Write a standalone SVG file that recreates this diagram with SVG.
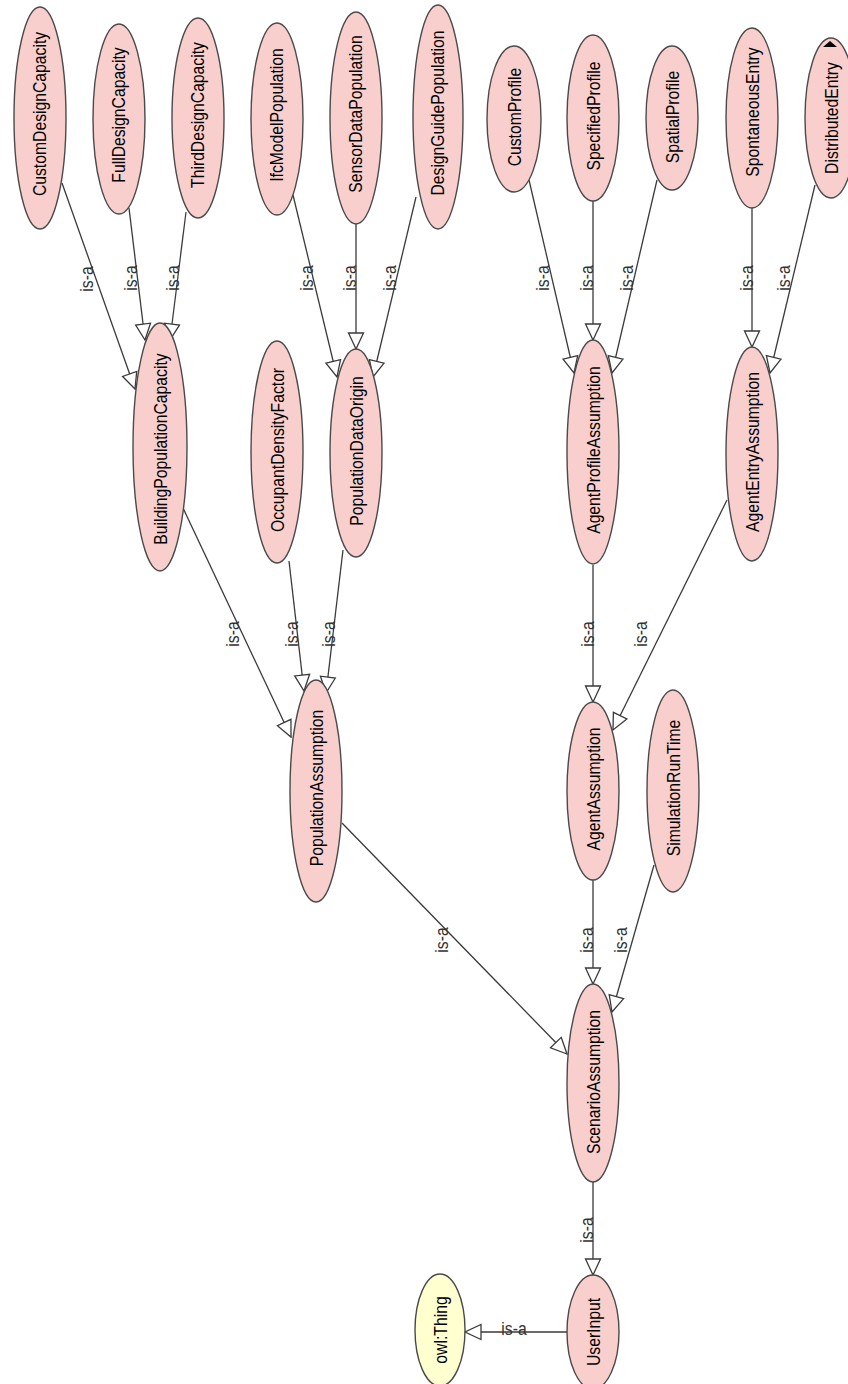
<svg xmlns="http://www.w3.org/2000/svg" width="848" height="1384" viewBox="0 0 848 1384">
<style>
.n ellipse{fill:#f8cfcd;stroke:#4a4a4a;stroke-width:1.4}
.t ellipse{fill:#ffffd0;stroke:#4a4a4a;stroke-width:1.4}
.n text,.t text{font-family:"Liberation Sans",Arial,sans-serif;font-size:18.5px;fill:#000;text-anchor:middle;dominant-baseline:central}
.e line{stroke:#3a3a3a;stroke-width:1.3;marker-end:url(#tri)}
.e text{font-family:"Liberation Sans",Arial,sans-serif;font-size:18.5px;fill:#333;text-anchor:middle;dominant-baseline:central}
</style>
<defs>
<marker id="tri" markerUnits="userSpaceOnUse" markerWidth="18" markerHeight="18" viewBox="0 0 18 18" refX="17" refY="9" orient="auto">
<path d="M1,1.5 L17,9 L1,16.5 Z" fill="#fff" stroke="#3a3a3a" stroke-width="1.3"/>
</marker>
</defs>
<rect width="848" height="1384" fill="#fff"/>
<g id="edges" class="e">
<line x1="62" y1="183" x2="135" y2="389"/>
<line x1="129" y1="208" x2="145" y2="340"/>
<line x1="186" y1="212" x2="170" y2="340"/>
<line x1="293" y1="195" x2="337" y2="377"/>
<line x1="356" y1="224" x2="356" y2="349"/>
<line x1="416" y1="197" x2="373" y2="377"/>
<line x1="529" y1="180" x2="574" y2="373"/>
<line x1="593" y1="201" x2="593" y2="340"/>
<line x1="657" y1="180" x2="612" y2="373"/>
<line x1="752" y1="208" x2="752" y2="347"/>
<line x1="815" y1="185" x2="770" y2="373"/>
<line x1="183" y1="508" x2="291" y2="737"/>
<line x1="289" y1="561" x2="304" y2="691"/>
<line x1="343" y1="550" x2="326" y2="693"/>
<line x1="593" y1="565" x2="593" y2="702"/>
<line x1="727" y1="500" x2="613" y2="730"/>
<line x1="342" y1="823" x2="567" y2="1054"/>
<line x1="593" y1="880" x2="593" y2="984"/>
<line x1="654" y1="865" x2="612" y2="1012"/>
<line x1="593" y1="1182" x2="593" y2="1275"/>
<line x1="567" y1="1332" x2="465" y2="1332"/>
<text transform="translate(87,279) rotate(-90) scale(0.85,1)">is-a</text>
<text transform="translate(131,278) rotate(-90) scale(0.85,1)">is-a</text>
<text transform="translate(173,278) rotate(-90) scale(0.85,1)">is-a</text>
<text transform="translate(307,278) rotate(-90) scale(0.85,1)">is-a</text>
<text transform="translate(350,278) rotate(-90) scale(0.85,1)">is-a</text>
<text transform="translate(390,278) rotate(-90) scale(0.85,1)">is-a</text>
<text transform="translate(543,278) rotate(-90) scale(0.85,1)">is-a</text>
<text transform="translate(587,278) rotate(-90) scale(0.85,1)">is-a</text>
<text transform="translate(627,278) rotate(-90) scale(0.85,1)">is-a</text>
<text transform="translate(747,278) rotate(-90) scale(0.85,1)">is-a</text>
<text transform="translate(784,278) rotate(-90) scale(0.85,1)">is-a</text>
<text transform="translate(233,634) rotate(-90) scale(0.85,1)">is-a</text>
<text transform="translate(292,634) rotate(-90) scale(0.85,1)">is-a</text>
<text transform="translate(329,634) rotate(-90) scale(0.85,1)">is-a</text>
<text transform="translate(588,634) rotate(-90) scale(0.85,1)">is-a</text>
<text transform="translate(641,634) rotate(-90) scale(0.85,1)">is-a</text>
<text transform="translate(442,940) rotate(-90) scale(0.85,1)">is-a</text>
<text transform="translate(587,940) rotate(-90) scale(0.85,1)">is-a</text>
<text transform="translate(621,940) rotate(-90) scale(0.85,1)">is-a</text>
<text transform="translate(587,1230) rotate(-90) scale(0.85,1)">is-a</text>
<text transform="translate(514,1329) scale(0.85,1)">is-a</text>
</g>
<g id="CustomDesignCapacity" class="n"><ellipse cx="40" cy="118" rx="26" ry="111"/><text transform="translate(40,114) rotate(-90) scale(0.85,1)">CustomDesignCapacity</text></g>
<g id="FullDesignCapacity" class="n"><ellipse cx="119" cy="119" rx="26" ry="95"/><text transform="translate(119,115) rotate(-90) scale(0.85,1)">FullDesignCapacity</text></g>
<g id="ThirdDesignCapacity" class="n"><ellipse cx="198" cy="118" rx="26" ry="100"/><text transform="translate(198,115) rotate(-90) scale(0.85,1)">ThirdDesignCapacity</text></g>
<g id="IfcModelPopulation" class="n"><ellipse cx="277" cy="119" rx="26" ry="96"/><text transform="translate(277,115) rotate(-90) scale(0.85,1)">IfcModelPopulation</text></g>
<g id="SensorDataPopulation" class="n"><ellipse cx="356" cy="118" rx="26" ry="106"/><text transform="translate(356,114) rotate(-90) scale(0.85,1)">SensorDataPopulation</text></g>
<g id="DesignGuidePopulation" class="n"><ellipse cx="438" cy="117" rx="25" ry="112"/><text transform="translate(438,113) rotate(-90) scale(0.85,1)">DesignGuidePopulation</text></g>
<g id="CustomProfile" class="n"><ellipse cx="514" cy="119" rx="27" ry="73"/><text transform="translate(515,117) rotate(-90) scale(0.85,1)">CustomProfile</text></g>
<g id="SpecifiedProfile" class="n"><ellipse cx="593" cy="118" rx="26" ry="83"/><text transform="translate(594,116) rotate(-90) scale(0.85,1)">SpecifiedProfile</text></g>
<g id="SpatialProfile" class="n"><ellipse cx="672" cy="118" rx="26" ry="72"/><text transform="translate(673,117) rotate(-90) scale(0.85,1)">SpatialProfile</text></g>
<g id="SpontaneousEntry" class="n"><ellipse cx="752" cy="118" rx="26" ry="90"/><text transform="translate(753,112) rotate(-90) scale(0.85,1)">SpontaneousEntry</text></g>
<g id="DistributedEntry" class="n"><ellipse cx="831" cy="118" rx="26" ry="80"/><text transform="translate(832,118) rotate(-90) scale(0.85,1)">DistributedEntry</text><path d="M823,47 L837,47 L830,41 Z" fill="#000"/></g>
<g id="BuildingPopulationCapacity" class="n"><ellipse cx="160" cy="447" rx="27" ry="124"/><text transform="translate(161,449) rotate(-90) scale(0.85,1)">BuildingPopulationCapacity</text></g>
<g id="OccupantDensityFactor" class="n"><ellipse cx="277" cy="452" rx="26" ry="111"/><text transform="translate(278,450) rotate(-90) scale(0.85,1)">OccupantDensityFactor</text></g>
<g id="PopulationDataOrigin" class="n"><ellipse cx="356" cy="453" rx="26" ry="104"/><text transform="translate(357,451) rotate(-90) scale(0.85,1)">PopulationDataOrigin</text></g>
<g id="AgentProfileAssumption" class="n"><ellipse cx="593" cy="452" rx="26" ry="112"/><text transform="translate(594,450) rotate(-90) scale(0.85,1)">AgentProfileAssumption</text></g>
<g id="AgentEntryAssumption" class="n"><ellipse cx="752" cy="454" rx="26" ry="107"/><text transform="translate(753,452) rotate(-90) scale(0.85,1)">AgentEntryAssumption</text></g>
<g id="PopulationAssumption" class="n"><ellipse cx="316" cy="791" rx="26" ry="111"/><text transform="translate(317,788) rotate(-90) scale(0.85,1)">PopulationAssumption</text></g>
<g id="AgentAssumption" class="n"><ellipse cx="593" cy="791" rx="26" ry="89"/><text transform="translate(594,789) rotate(-90) scale(0.85,1)">AgentAssumption</text></g>
<g id="SimulationRunTime" class="n"><ellipse cx="673" cy="791" rx="26" ry="101"/><text transform="translate(674,788) rotate(-90) scale(0.85,1)">SimulationRunTime</text></g>
<g id="ScenarioAssumption" class="n"><ellipse cx="593" cy="1083" rx="26" ry="99"/><text transform="translate(594,1082) rotate(-90) scale(0.85,1)">ScenarioAssumption</text></g>
<g id="UserInput" class="n"><ellipse cx="593" cy="1332" rx="26" ry="57"/><text transform="translate(594,1332) rotate(-90) scale(0.85,1)">UserInput</text></g>
<g id="owlThing" class="t"><ellipse cx="440" cy="1330" rx="25" ry="56"/><text transform="translate(441,1330) rotate(-90) scale(0.85,1)">owl:Thing</text></g>
</svg>
